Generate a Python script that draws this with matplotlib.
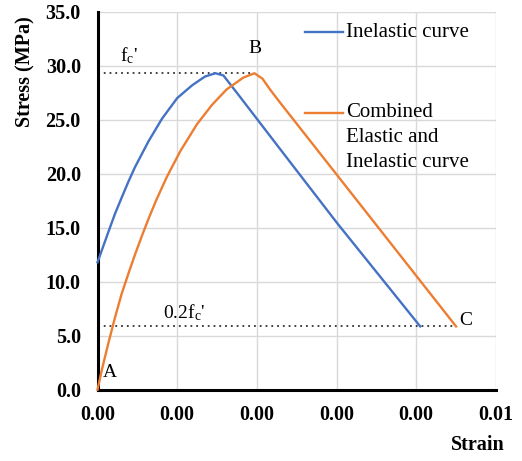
import matplotlib
matplotlib.use("Agg")
import matplotlib.pyplot as plt

plt.rcParams['font.family'] = ['Liberation Serif', 'DejaVu Serif']
plt.rcParams['mathtext.fontset'] = 'custom'
plt.rcParams['mathtext.rm'] = 'Liberation Serif'
plt.rcParams['mathtext.it'] = 'Liberation Serif:italic'

# Data
fc = 29.3
inel_strain = [0.0, 0.000073, 0.000136, 0.00022, 0.000304, 0.00039, 0.00047, 0.00064, 0.00081,
               0.001, 0.00119, 0.00135, 0.00148, 0.00158, 0.00179, 0.0023, 0.00301, 0.00405]
inel_stress = [11.8, 13.3, 14.6, 16.3, 17.8, 19.3, 20.6, 23.0, 25.1,
               27.0, 28.2, 29.0, 29.3, 29.1, 27.1, 22.2, 15.4, 5.86]
comb_strain = [0.0, 0.000053, 0.000136, 0.00022, 0.000304, 0.00039, 0.00047, 0.00056, 0.00065,
               0.00074, 0.00087, 0.00104, 0.00125, 0.00144, 0.00162, 0.00183, 0.00197,
               0.00207, 0.00217, 0.0023, 0.0045]
comb_stress = [0.0, 1.8, 4.3, 6.7, 8.9, 10.8, 12.5, 14.3, 16.0,
               17.6, 19.7, 22.1, 24.6, 26.4, 27.8, 28.9, 29.3,
               28.8, 27.75, 26.5, 5.86]
x_ticks = [0.0, 0.001, 0.002, 0.003, 0.004, 0.005]
y_ticks = [0, 5, 10, 15, 20, 25, 30, 35]

blue = '#4472C4'
orange = '#ED7D31'

fig = plt.figure(figsize=(5.22, 4.61), dpi=100)
ax = fig.add_axes([0.1868, 0.1547, 0.7632, 0.8199])

ax.set_xlim(0, 0.005)
ax.set_ylim(0, 35)
ax.set_xticks(x_ticks)
ax.set_yticks(y_ticks)
ax.set_xticklabels([f"{v:.2f}" for v in x_ticks])
ax.set_yticklabels([f"{v:.1f}" for v in y_ticks])
ax.grid(True, color='#d9d9d9', linewidth=1.0)
ax.set_axisbelow(True)
for s in ['top', 'right']:
    ax.spines[s].set_visible(False)
for s in ['left', 'bottom']:
    ax.spines[s].set_linewidth(2.2)
    ax.spines[s].set_color('black')
ax.tick_params(axis='both', length=0, labelsize=14.5)
ax.tick_params(axis='x', pad=11)
ax.tick_params(axis='y', pad=12)
for lab in ax.get_xticklabels() + ax.get_yticklabels():
    lab.set_fontweight('bold')

# reference lines
ax.plot([0, comb_strain[16]], [fc, fc], linestyle=(0, (1, 2.2)), color='#333333', linewidth=1.3)
ax.plot([0, comb_strain[-1]], [0.2 * fc, 0.2 * fc], linestyle=(0, (1, 2.2)), color='#333333', linewidth=1.3)

ax.plot(inel_strain, inel_stress, color=blue, linewidth=1.7, clip_on=False, zorder=3,
        solid_joinstyle='round')
ax.plot(comb_strain, comb_stress, color=orange, linewidth=1.7, clip_on=False, zorder=3,
        solid_joinstyle='round')

# annotations
ax.text(0.000157, 1.55, 'A', fontsize=14, ha='center', va='center')
ax.text(0.00198, 31.6, 'B', fontsize=14, ha='center', va='center')
ax.text(0.00462, 6.4, 'C', fontsize=14, ha='center', va='center')
ax.text(0.00028, 30.9, r"f$_{\mathrm{c}}$'", fontsize=14, ha='left', va='center')
ax.text(0.00082, 7.1, r"0.2f$_{\mathrm{c}}$'", fontsize=14, ha='left', va='center')

# legend drawn manually
ax.plot([0.521, 0.616], [0.946, 0.946], transform=ax.transAxes, color=blue, linewidth=1.7, clip_on=False)
ax.text(0.623, 0.946, 'Inelastic curve', transform=ax.transAxes, fontsize=15, ha='left', va='center')
ax.plot([0.521, 0.616], [0.733, 0.733], transform=ax.transAxes, color=orange, linewidth=1.7, clip_on=False)
for i, t in enumerate(['Combined', 'Elastic and', 'Inelastic curve']):
    ax.text(0.623, 0.733 - i * 0.066, t, transform=ax.transAxes, fontsize=15, ha='left', va='center')

fig.text(25 / 522, 1 - 72 / 461, 'Stress (MPa)', rotation=90, fontsize=14.5, fontweight='bold',
         ha='center', va='center')
fig.text(478 / 522, 1 - 445 / 461, 'Strain', fontsize=14.5, fontweight='bold', ha='center', va='center')

fig.savefig('out.png', dpi=100)
